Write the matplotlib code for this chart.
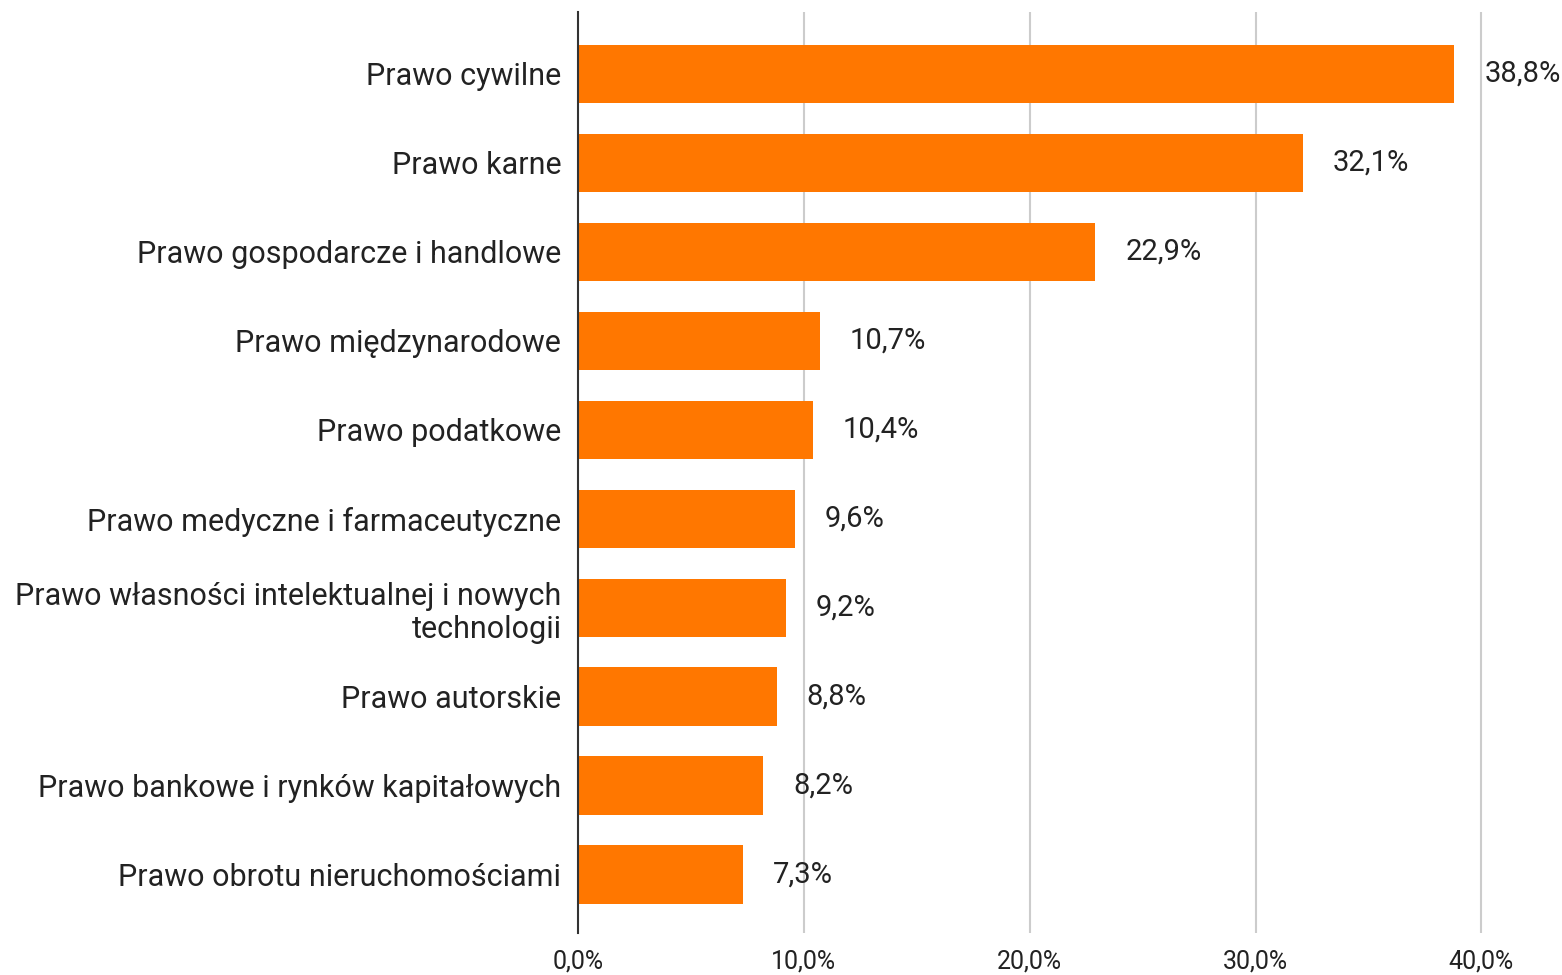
import matplotlib.pyplot as plt

plt.rcParams['font.family'] = ['Roboto', 'DejaVu Sans']

categories = [
    "Prawo cywilne",
    "Prawo karne",
    "Prawo gospodarcze i handlowe",
    "Prawo międzynarodowe",
    "Prawo podatkowe",
    "Prawo medyczne i farmaceutyczne",
    "Prawo własności intelektualnej i nowych\ntechnologii",
    "Prawo autorskie",
    "Prawo bankowe i rynków kapitałowych",
    "Prawo obrotu nieruchomościami",
]
values = [38.8, 32.1, 22.9, 10.7, 10.4, 9.6, 9.2, 8.8, 8.2, 7.3]
ticks = [0, 10, 20, 30, 40]

fig = plt.figure(figsize=(15.62, 9.75), dpi=100)
ax = fig.add_axes([578 / 1562, 42 / 975, (1504 - 578) / 1562, (933 - 12) / 975])

ypos = list(range(len(categories)))
ax.barh(ypos, values, height=0.655, color="#ff7700", zorder=3)

for y, v in zip(ypos, values):
    ax.annotate(f"{v:.1f}%".replace(".", ","), xy=(v, y), xytext=(30, 0),
                textcoords="offset pixels", va="center", ha="left",
                fontsize=21, color="#222222")

ax.set_xlim(0, 41)
ax.set_ylim(9.658, -0.697)
ax.set_yticks(ypos)
ax.set_yticklabels(categories, fontsize=22, color="#222222", linespacing=1.2)
ax.set_xticks(ticks)
ax.set_xticklabels([f"{t:.1f}%".replace(".", ",") for t in ticks], fontsize=18, color="#222222")
ax.tick_params(axis="both", length=0)
ax.tick_params(axis="y", pad=12)
ax.tick_params(axis="x", pad=12)

for t in ticks[1:]:
    ax.axvline(t, color="#cccccc", lw=1.5, zorder=1)
for s in ["top", "right", "bottom"]:
    ax.spines[s].set_visible(False)
ax.spines["left"].set_color("#333333")
ax.spines["left"].set_linewidth(1.5)
ax.spines["left"].set_zorder(4)

fig.savefig("out.png", dpi=100)
